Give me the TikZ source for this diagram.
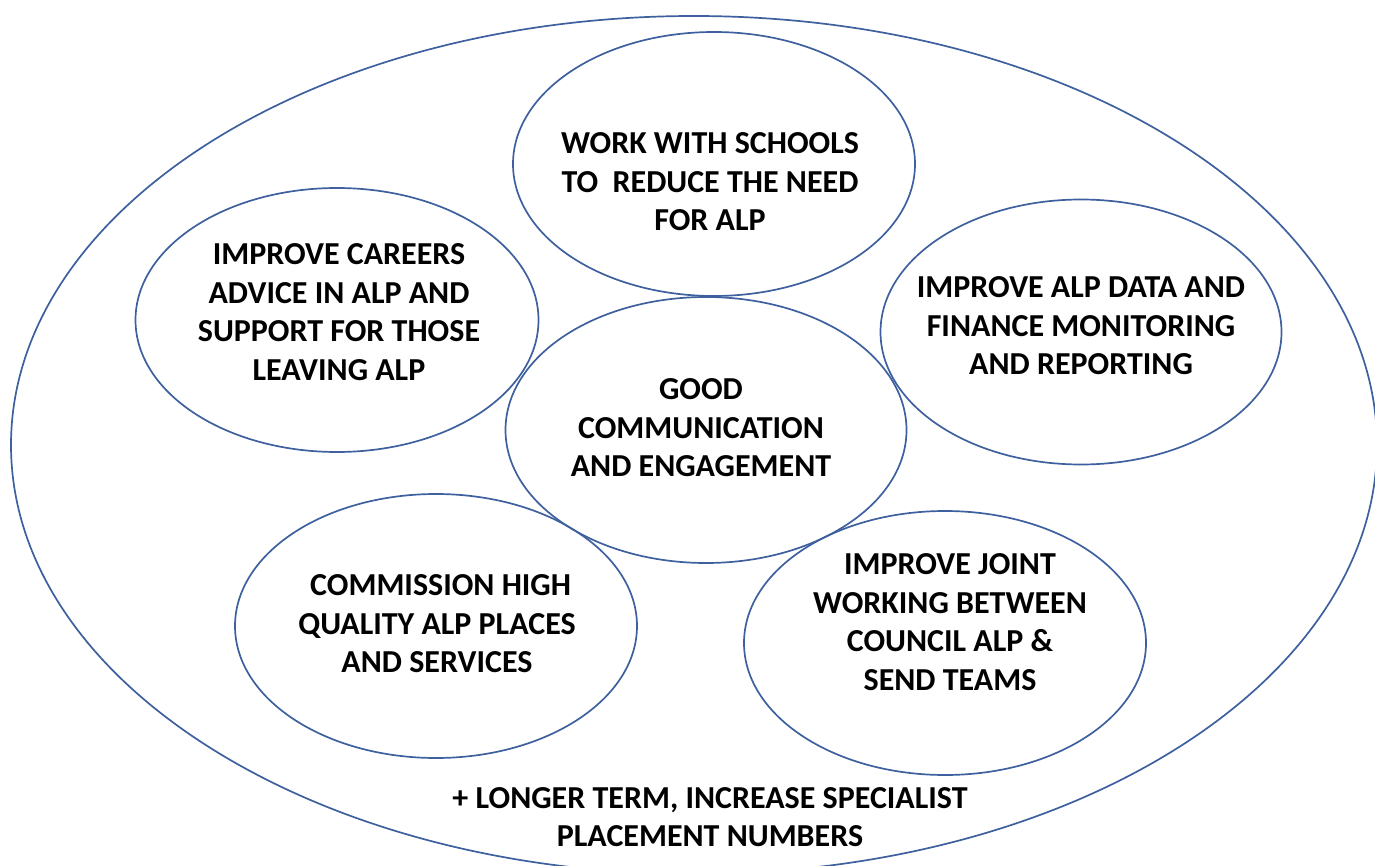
\documentclass[tikz,border=0pt]{standalone}
\usepackage{fontspec}
\setmainfont{Carlito}
\usetikzlibrary{shapes.geometric}
\definecolor{ringblue}{RGB}{62,96,158}
\tikzset{
  ring/.style={draw=ringblue, line width=1.7pt, ellipse, inner sep=0pt},
  label34/.style={align=center, font=\fontsize{32}{38.5}\selectfont\bfseries, text=black, inner sep=0pt},
  label32/.style={align=center, font=\fontsize{32}{38}\selectfont\bfseries, text=black, inner sep=0pt}
}
\begin{document}
\begin{tikzpicture}[x=1pt,y=-1pt]
\useasboundingbox (0,0) rectangle (1375,866);
\clip (0,0) rectangle (1375,866);
\node[ring, minimum width=1366pt, minimum height=858pt] (outer) at (694,445) {};
\node[ring, minimum width=402pt, minimum height=264pt] (schools) at (714,164) {};
\node[ring, minimum width=403pt, minimum height=264pt] (careers) at (337,320) {};
\node[ring, minimum width=401pt, minimum height=265pt] (data) at (1081,332) {};
\node[ring, minimum width=401pt, minimum height=266pt] (center) at (706,430) {};
\node[ring, minimum width=402pt, minimum height=264pt] (commission) at (436,626) {};
\node[ring, minimum width=402pt, minimum height=264pt] (joint) at (945,643) {};
\node[label34] (tschools) at (710,182) {WORK WITH SCHOOLS\\TO\ \ REDUCE THE NEED\\FOR ALP};
\node[label34] (tcareers) at (339,312) {IMPROVE CAREERS\\ADVICE IN ALP AND\\SUPPORT FOR THOSE\\LEAVING ALP};
\node[label34] (tdata) at (1081,326) {IMPROVE ALP DATA AND\\FINANCE MONITORING\\AND REPORTING};
\node[label34] (tcenter) at (701,428) {GOOD\\COMMUNICATION\\AND ENGAGEMENT};
\node[label34] (tcommission) at (437,624) {\ COMMISSION HIGH\\QUALITY ALP PLACES\\AND SERVICES};
\node[label34] (tjoint) at (950,622) {IMPROVE JOINT\\WORKING BETWEEN\\COUNCIL ALP \&\\SEND TEAMS};
\node[label32] (tlonger) at (710,817) {+ LONGER TERM, INCREASE SPECIALIST\\PLACEMENT NUMBERS};
\end{tikzpicture}
\end{document}
